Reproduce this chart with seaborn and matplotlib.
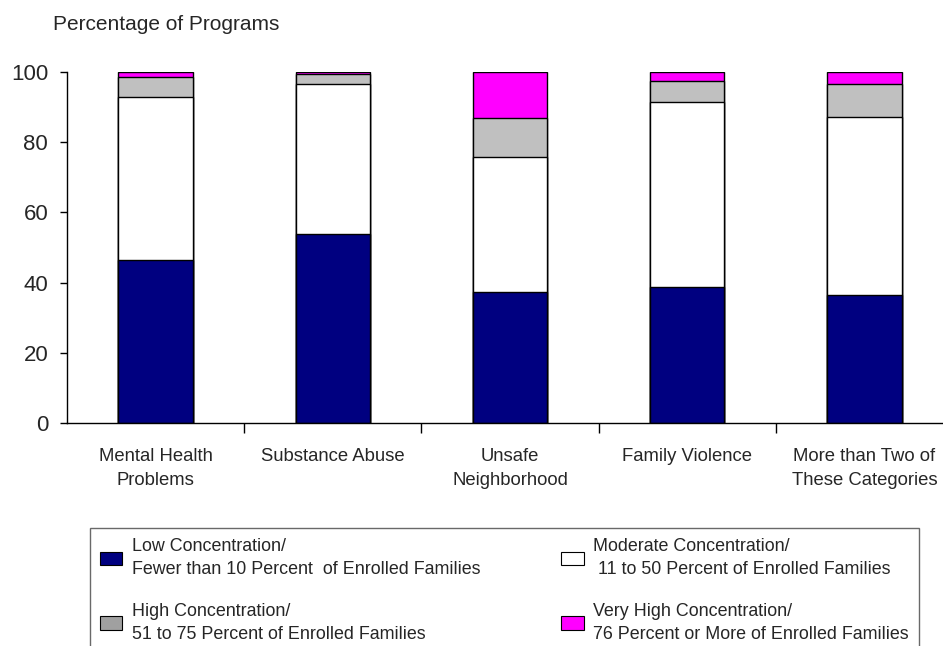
import pandas as pd
import matplotlib
matplotlib.use('Agg')
import matplotlib.pyplot as plt
import seaborn as sns
from matplotlib.patches import Patch
from matplotlib.ticker import FixedLocator

# Chart data (percent of programs)
categories = ['Mental Health\nProblems', 'Substance Abuse', 'Unsafe\nNeighborhood',
              'Family Violence', 'More than Two of\nThese Categories']
low = [46.4, 53.8, 37.4, 38.8, 36.5]
moderate = [46.4, 42.7, 38.4, 52.7, 50.8]
high = [5.9, 2.9, 11.0, 5.9, 9.3]
very_high = [1.3, 0.6, 13.2, 2.6, 3.4]

series_labels = [
    'Low Concentration/\nFewer than 10 Percent  of Enrolled Families',
    'Moderate Concentration/\n 11 to 50 Percent of Enrolled Families',
    'High Concentration/\n51 to 75 Percent of Enrolled Families',
    'Very High Concentration/\n76 Percent or More of Enrolled Families',
]
y_ticks = [0, 20, 40, 60, 80, 100]

colors = ['#000080', '#FFFFFF', '#C0C0C0', '#FF00FF']

sns.set_style('white')
plt.rcParams['font.family'] = ['Liberation Sans', 'DejaVu Sans']

df = pd.DataFrame({'category': categories, 'low': low, 'moderate': moderate,
                   'high': high, 'very_high': very_high})
df['c_low'] = df['low']
df['c_moderate'] = df['c_low'] + df['moderate']
df['c_high'] = df['c_moderate'] + df['high']
df['c_very_high'] = df['c_high'] + df['very_high']

fig = plt.figure(figsize=(9.43, 6.46), dpi=100)
ax = fig.add_axes([67 / 943, 1 - 423 / 646, 886 / 943, 351 / 646])

# stacked bars: draw cumulative totals from the top layer down
for col, color in zip(['c_very_high', 'c_high', 'c_moderate', 'c_low'], colors[::-1]):
    sns.barplot(data=df, x='category', y=col, color=color, width=0.42,
                edgecolor='black', linewidth=1.0, saturation=1, ax=ax,
                errorbar=None)

ax.set_ylim(0, 100)
ax.set_xlim(-0.5, 4.5)
ax.set_yticks(y_ticks)
ax.set_xlabel('')
ax.set_ylabel('')
ax.tick_params(axis='y', labelsize=16, length=5, width=1, direction='out',
               left=True, pad=8.5, color='black')
ax.tick_params(axis='x', which='major', labelsize=13.3, length=0, pad=18)
ax.xaxis.set_minor_locator(FixedLocator([0.5, 1.5, 2.5, 3.5]))
ax.tick_params(axis='x', which='minor', length=7, width=1, direction='out',
               bottom=True, color='black')
for lbl in ax.get_xticklabels():
    lbl.set_linespacing(1.55)

for side in ['top', 'right']:
    ax.spines[side].set_visible(False)
for side in ['left', 'bottom']:
    ax.spines[side].set_color('black')
    ax.spines[side].set_linewidth(1)

fig.text(53 / 943, 1 - 30 / 646, 'Percentage of Programs', fontsize=15,
         ha='left', va='baseline')

legend_colors = ['#000080', '#FFFFFF', '#A0A0A0', '#FF00FF']
handles = [Patch(facecolor=c, edgecolor='black', linewidth=0.8) for c in legend_colors]
order = [0, 2, 1, 3]
leg = fig.legend([handles[i] for i in order], [series_labels[i] for i in order],
                 ncol=2, loc='upper left', bbox_to_anchor=(90 / 943, 1 - 528 / 646),
                 fontsize=12.9, frameon=True, fancybox=False, edgecolor='#444444',
                 borderaxespad=0, borderpad=0.55, handlelength=1.25, handleheight=0.8,
                 handletextpad=0.55, labelspacing=1.35, columnspacing=4.5)
leg.get_frame().set_linewidth(1)
for t in leg.get_texts():
    t.set_linespacing(1.5)

fig.savefig('out.png', dpi=100)
